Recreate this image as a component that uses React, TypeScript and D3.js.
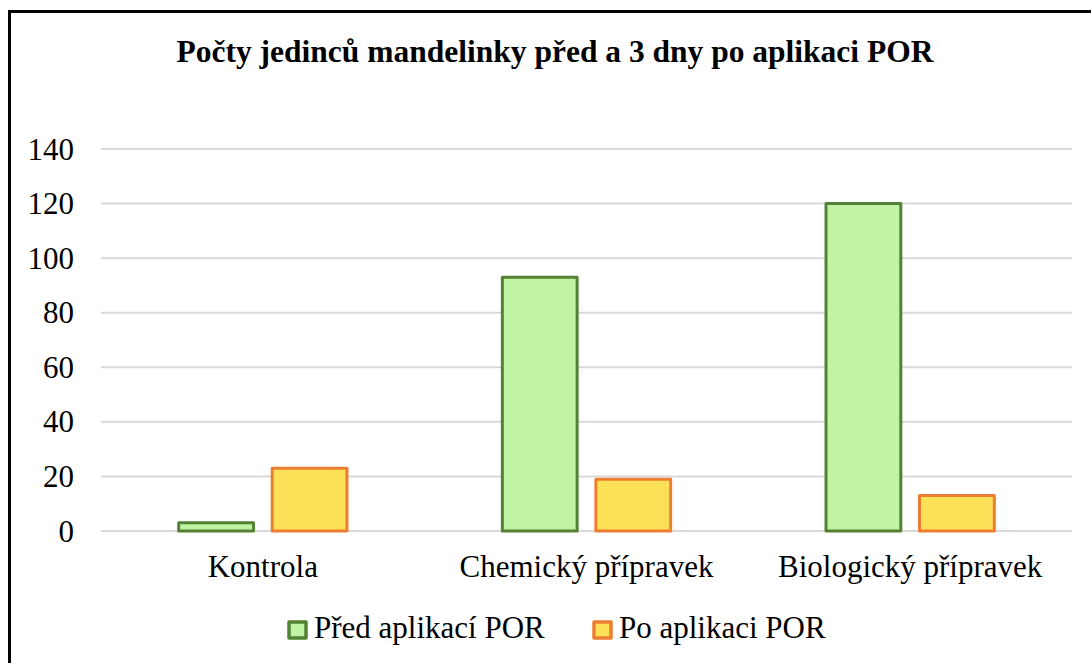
import React, { useEffect, useRef } from "react";
import * as d3 from "d3";

const categories = ["Kontrola", "Chemický přípravek", "Biologický přípravek"];
const seriesNames = ["Před aplikací POR", "Po aplikaci POR"];
const predValues = [3, 93, 120];
const poValues = [23, 19, 13];
const yTicks = [0, 20, 40, 60, 80, 100, 120, 140];

const fills = ["#C1F3A5", "#FCE057"];
const strokes = ["#548235", "#ED7D31"];
const font = "Liberation Serif, Tinos, Times New Roman, serif";

const App = () => {
    const ref = useRef(null);

    useEffect(() => {
        const svg = d3.select(ref.current);
        svg.selectAll("*").remove();

        const left = 101, right = 1072, top = 149, bottom = 531;

        const y = d3.scaleLinear().domain([0, 140]).range([bottom, top]);
        const x0 = d3.scaleBand()
            .domain(categories)
            .range([left, right])
            .paddingInner(0.48)
            .paddingOuter(0.24);
        const x1 = d3.scaleBand()
            .domain(seriesNames)
            .range([0, x0.bandwidth()])
            .paddingInner(0.2);

        // border (right/bottom edges fall outside the picture)
        svg.append("rect")
            .attr("x", 9.5).attr("y", 11.5)
            .attr("width", 1100).attr("height", 700)
            .attr("fill", "white")
            .attr("stroke", "black")
            .attr("stroke-width", 3);

        svg.append("text")
            .attr("x", 555).attr("y", 62)
            .attr("text-anchor", "middle")
            .attr("font-family", font)
            .attr("font-weight", "bold")
            .attr("font-size", 31.5)
            .text("Počty jedinců mandelinky před a 3 dny po aplikaci POR");

        svg.append("g")
            .selectAll("line")
            .data(yTicks)
            .enter()
            .append("line")
            .attr("x1", left).attr("x2", right)
            .attr("y1", d => y(d)).attr("y2", d => y(d))
            .attr("stroke", "#D9D9D9")
            .attr("stroke-width", 2);

        svg.append("g")
            .selectAll("text")
            .data(yTicks)
            .enter()
            .append("text")
            .attr("x", 74)
            .attr("y", d => y(d))
            .attr("dy", "0.34em")
            .attr("text-anchor", "end")
            .attr("font-family", font)
            .attr("font-size", 31)
            .text(d => d);

        const series = [predValues, poValues];
        series.forEach((vals, s) => {
            svg.append("g")
                .selectAll("rect")
                .data(vals)
                .enter()
                .append("rect")
                .attr("x", (d, i) => x0(categories[i]) + x1(seriesNames[s]))
                .attr("y", d => y(d))
                .attr("width", x1.bandwidth())
                .attr("height", d => bottom - y(d))
                .attr("fill", fills[s])
                .attr("stroke", strokes[s])
                .attr("stroke-width", 3)
                .attr("stroke-linejoin", "round");
        });

        svg.append("g")
            .selectAll("text")
            .data(categories)
            .enter()
            .append("text")
            .attr("x", d => x0(d) + x0.bandwidth() / 2)
            .attr("y", 577)
            .attr("text-anchor", "middle")
            .attr("font-family", font)
            .attr("font-size", 31)
            .text(d => d);

        const legendX = [289, 594];
        const legend = svg.append("g")
            .selectAll("g")
            .data(seriesNames)
            .enter()
            .append("g")
            .attr("transform", (d, i) => `translate(${legendX[i]},622)`);
        legend.append("rect")
            .attr("width", 17).attr("height", 16)
            .attr("fill", (d, i) => fills[i])
            .attr("stroke", (d, i) => strokes[i])
            .attr("stroke-width", 3.5)
            .attr("stroke-linejoin", "round");
        legend.append("text")
            .attr("x", 25).attr("y", 16)
            .attr("font-family", font)
            .attr("font-size", 31)
            .text(d => d);
    }, []);

    return (
        <svg ref={ref} width={1091} height={663}
            style={{ position: "absolute", left: 0, top: 0, background: "white" }} />
    );
};

export default App;
